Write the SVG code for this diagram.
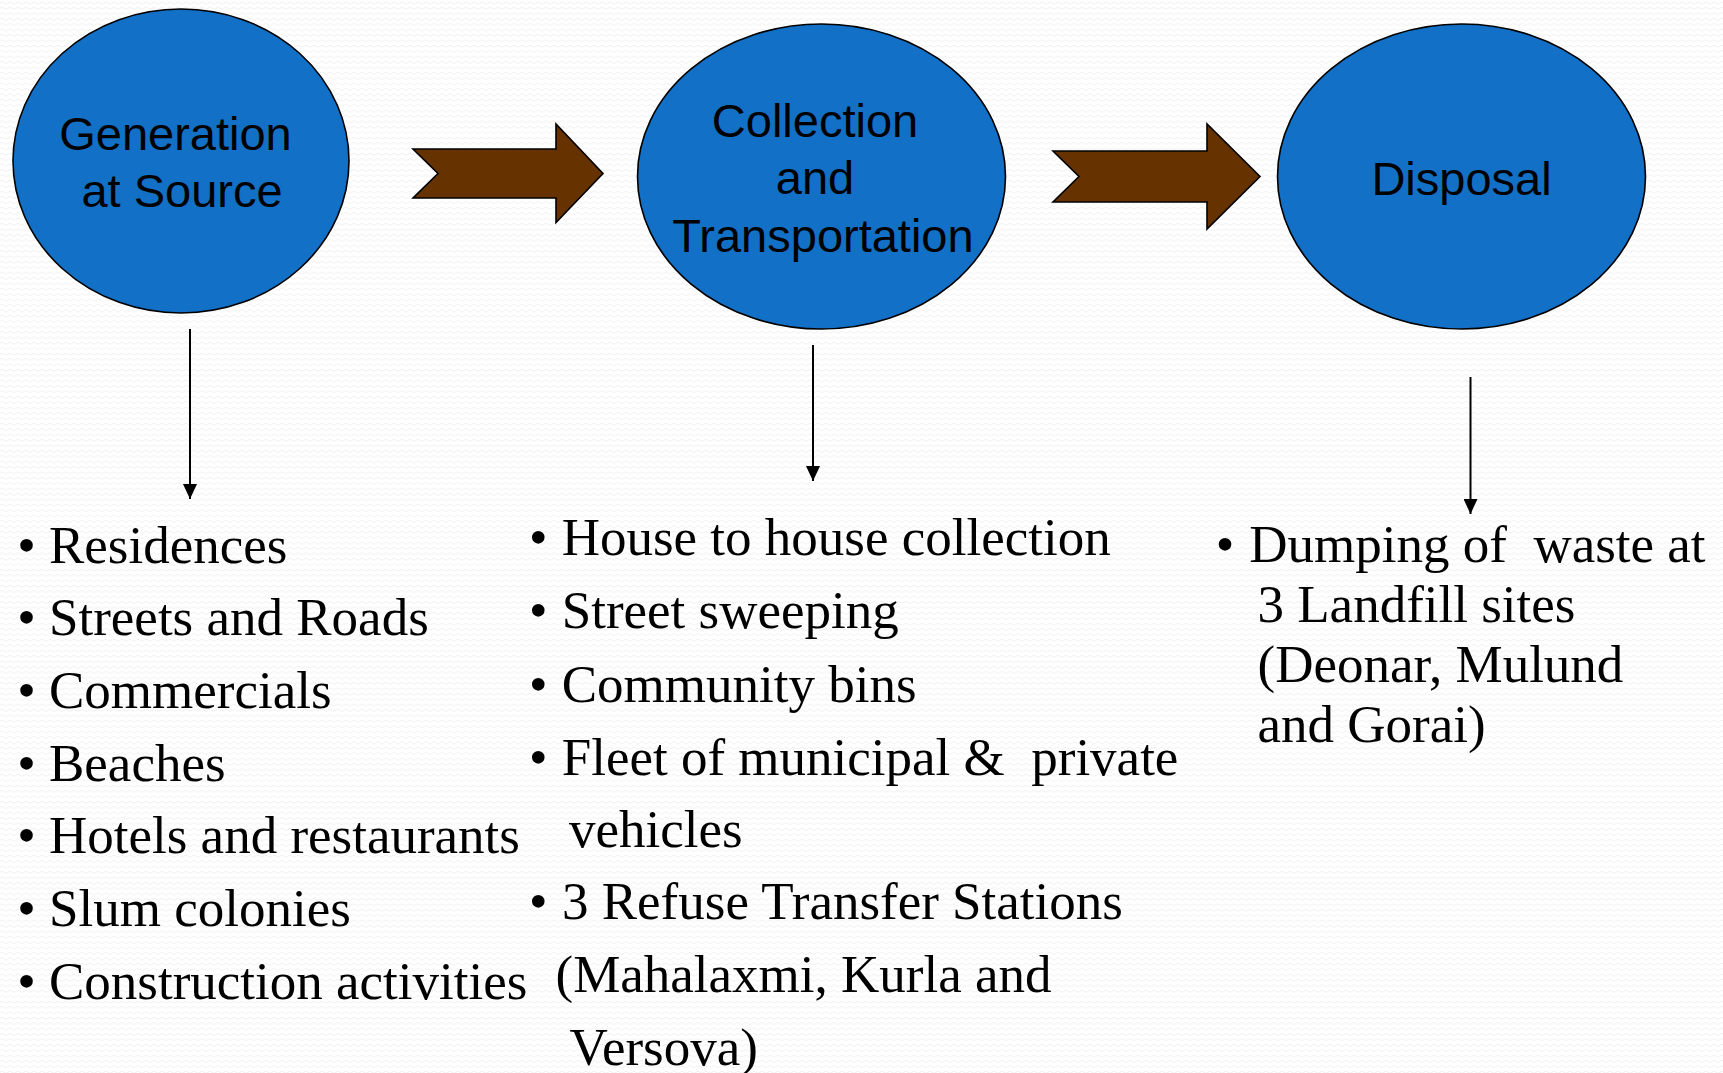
<svg xmlns="http://www.w3.org/2000/svg" width="1723" height="1073" viewBox="0 0 1723 1073">
  <defs>
    <pattern id="bgwave" width="8" height="5.4" patternUnits="userSpaceOnUse">
      <rect width="8" height="5.4" fill="#ffffff"/>
      <path d="M0 3 Q2 1 4 3 T8 3" fill="none" stroke="#ececec" stroke-width="0.8"/>
    </pattern>
    <marker id="ah" markerWidth="15" markerHeight="14" refX="15" refY="7" orient="auto" markerUnits="userSpaceOnUse" viewBox="0 0 15 14">
      <path d="M0 0 L15 7 L0 14 Z" fill="#000"/>
    </marker>
    <style>
      .node { fill: #1270c6; stroke: #000; stroke-width: 1.6; }
      .lbl { font-family: "Liberation Sans", Arial, sans-serif; font-size: 47px; fill: #000; text-anchor: middle; }
      .item { font-family: "Liberation Serif", "Times New Roman", serif; font-size: 53px; fill: #000; white-space: pre; }
      .bul { font-family: "Liberation Serif", "Times New Roman", serif; font-size: 53px; fill: #000; text-anchor: middle; }
      .flow { fill: #663300; stroke: #000; stroke-width: 1.6; stroke-linejoin: miter; }
      .down { stroke: #000; stroke-width: 2; fill: none; }
    </style>
  </defs>
  <rect x="0" y="0" width="1723" height="1073" fill="url(#bgwave)"/>

  <g id="node-generation">
    <ellipse class="node" cx="181" cy="161" rx="168" ry="152"/>
    <text class="lbl" x="175.5" y="150">Generation</text>
    <text class="lbl" x="182" y="207">at Source</text>
  </g>

  <g id="node-collection">
    <ellipse class="node" cx="821.5" cy="176.5" rx="184" ry="152.5"/>
    <text class="lbl" x="815" y="137">Collection</text>
    <text class="lbl" x="815" y="194">and</text>
    <text class="lbl" x="823" y="252">Transportation</text>
  </g>

  <g id="node-disposal">
    <ellipse class="node" cx="1461.5" cy="176.5" rx="184" ry="152.5"/>
    <text class="lbl" x="1461.5" y="195">Disposal</text>
  </g>

  <g id="connectors">
    <polygon class="flow" points="413,149 556,149 556,124 603,173.5 556,222.5 556,198 413,198 438,173.5"/>
    <polygon class="flow" points="1053,151 1207,151 1207,124 1260,176.5 1207,229 1207,202 1053,202 1079,176.5"/>
    <line class="down" x1="190" y1="329" x2="190" y2="499" marker-end="url(#ah)"/>
    <line class="down" x1="813" y1="345" x2="813" y2="481" marker-end="url(#ah)"/>
    <line class="down" x1="1470.5" y1="377" x2="1470.5" y2="514" marker-end="url(#ah)"/>
  </g>

  <g id="list-generation">
    <text class="bul" x="26.5" y="562.7">•</text><text class="item" x="49" y="562.7">Residences</text>
    <text class="bul" x="26.5" y="635.3">•</text><text class="item" x="49" y="635.3">Streets and Roads</text>
    <text class="bul" x="26.5" y="708">•</text><text class="item" x="49" y="708">Commercials</text>
    <text class="bul" x="26.5" y="780.7">•</text><text class="item" x="49" y="780.7">Beaches</text>
    <text class="bul" x="26.5" y="853.3">•</text><text class="item" x="49" y="853.3">Hotels and restaurants</text>
    <text class="bul" x="26.5" y="926">•</text><text class="item" x="49" y="926">Slum colonies</text>
    <text class="bul" x="26.5" y="998.7">•</text><text class="item" x="49" y="998.7">Construction activities</text>
  </g>

  <g id="list-collection">
    <text class="bul" x="538.3" y="555">•</text><text class="item" x="561.7" y="555">House to house collection</text>
    <text class="bul" x="538.3" y="628.3">•</text><text class="item" x="561.7" y="628.3">Street sweeping</text>
    <text class="bul" x="538.3" y="701.7">•</text><text class="item" x="561.7" y="701.7">Community bins</text>
    <text class="bul" x="538.3" y="775">•</text><text class="item" x="561.7" y="775">Fleet of municipal &amp;  private</text>
    <text class="item" x="569" y="847">vehicles</text>
    <text class="bul" x="538.3" y="919">•</text><text class="item" x="562" y="919">3 Refuse Transfer Stations</text>
    <text class="item" x="555.5" y="992">(Mahalaxmi, Kurla and</text>
    <text class="item" x="569.5" y="1065">Versova)</text>
  </g>

  <g id="list-disposal">
    <text class="bul" x="1225" y="561.7">•</text><text class="item" x="1249.3" y="561.7">Dumping of  waste at</text>
    <text class="item" x="1257.5" y="621.7">3 Landfill sites</text>
    <text class="item" x="1257.5" y="681.7">(Deonar, Mulund</text>
    <text class="item" x="1257.5" y="741.7">and Gorai)</text>
  </g>
</svg>
